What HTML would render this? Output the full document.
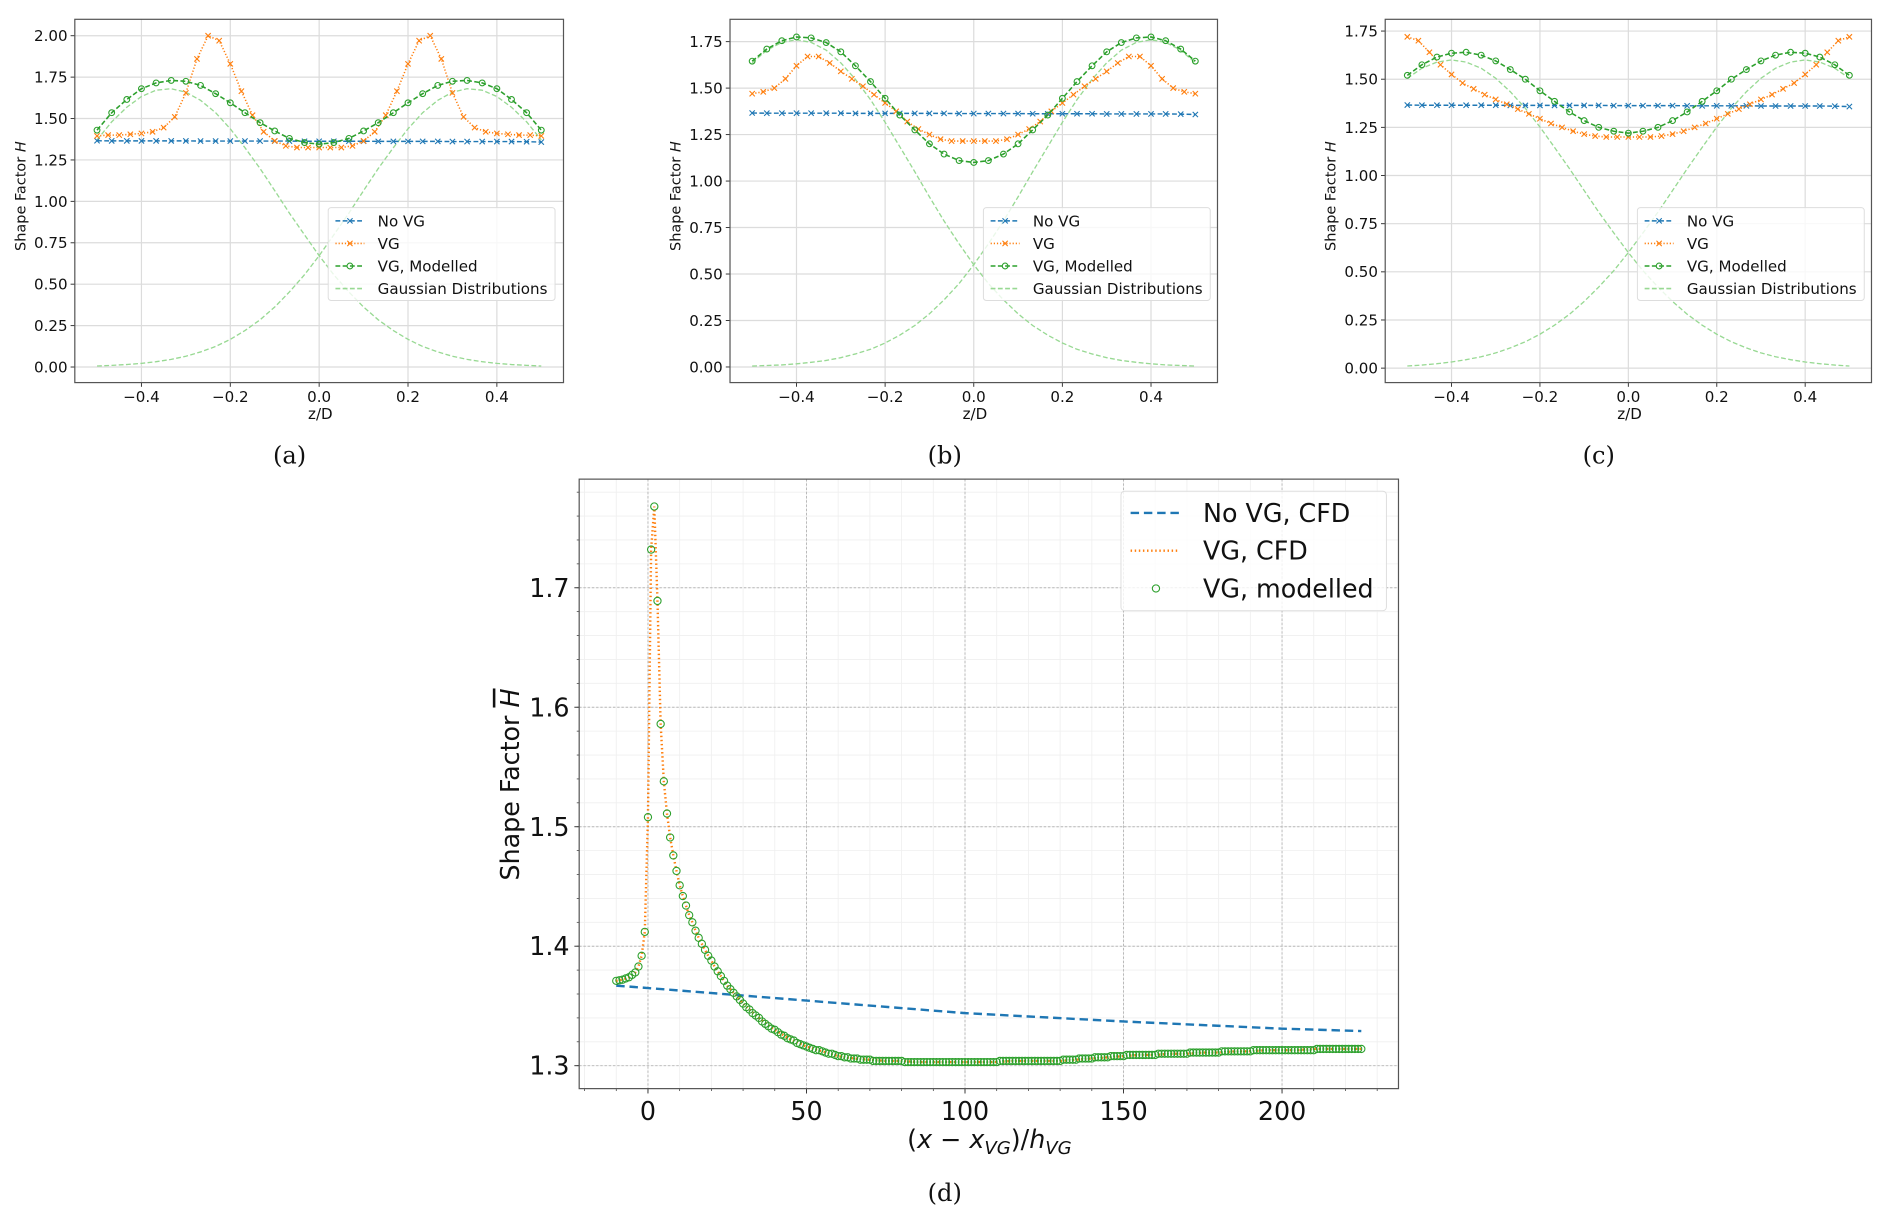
<!DOCTYPE html>
<html><head><meta charset="utf-8"><style>
html,body{margin:0;padding:0;background:#fff;}
svg{display:block;}
text{font-family:"DejaVu Sans","Liberation Sans",sans-serif;}
.cap{font-family:"DejaVu Serif","Liberation Serif",serif;}
</style></head>
<body>
<svg id="fig" xmlns="http://www.w3.org/2000/svg" width="1892" height="1225" viewBox="0 0 1568 1015" preserveAspectRatio="none"></svg>
<script>
// ---------- shared x categories ----------
const z31 = [-0.5,-0.467,-0.433,-0.4,-0.367,-0.333,-0.3,-0.267,-0.233,-0.2,-0.167,-0.133,-0.1,-0.067,-0.033,0,0.033,0.067,0.1,0.133,0.167,0.2,0.233,0.267,0.3,0.333,0.367,0.4,0.433,0.467,0.5];
const z41 = [-0.5,-0.475,-0.45,-0.425,-0.4,-0.375,-0.35,-0.325,-0.3,-0.275,-0.25,-0.225,-0.2,-0.175,-0.15,-0.125,-0.1,-0.075,-0.05,-0.025,0,0.025,0.05,0.075,0.1,0.125,0.15,0.175,0.2,0.225,0.25,0.275,0.3,0.325,0.35,0.375,0.4,0.425,0.45,0.475,0.5];
const zTicks = [-0.4,-0.2,0,0.2,0.4];
const zTickLabels = ["\u22120.4","\u22120.2","0.0","0.2","0.4"];

// ---------- panel (a) ----------
const aNoVG = [1.366,1.365,1.365,1.365,1.365,1.365,1.365,1.364,1.364,1.364,1.364,1.364,1.364,1.364,1.363,1.363,1.363,1.363,1.363,1.362,1.362,1.362,1.362,1.362,1.361,1.361,1.361,1.361,1.361,1.360,1.358];
const aVG = [1.395,1.40,1.40,1.405,1.41,1.42,1.445,1.51,1.655,1.86,2.00,1.97,1.83,1.665,1.52,1.42,1.365,1.335,1.325,1.325,1.325,1.325,1.325,1.335,1.365,1.42,1.52,1.665,1.83,1.97,2.00,1.86,1.655,1.51,1.445,1.42,1.41,1.405,1.40,1.40,1.395];
const aMod = [1.43,1.535,1.615,1.68,1.715,1.73,1.725,1.70,1.65,1.595,1.535,1.475,1.425,1.38,1.355,1.345,1.355,1.38,1.425,1.475,1.535,1.595,1.65,1.70,1.725,1.73,1.715,1.68,1.615,1.535,1.43];
const aGaussL = [1.371,1.480,1.568,1.633,1.671,1.680,1.659,1.610,1.535,1.438,1.324,1.198,1.065,0.929,0.798,0.672,0.557,0.453,0.362,0.285,0.220,0.167,0.124,0.091,0.065,0.046,0.032,0.022,0.015,0.010,0.006];
const aGaussR = [0.006,0.010,0.015,0.022,0.032,0.046,0.065,0.091,0.124,0.167,0.220,0.285,0.362,0.453,0.557,0.672,0.798,0.929,1.065,1.198,1.324,1.438,1.535,1.610,1.659,1.680,1.671,1.633,1.568,1.480,1.371];
const aYTicks = [0,0.25,0.5,0.75,1.0,1.25,1.5,1.75,2.0];
const aYTickLabels = ["0.00","0.25","0.50","0.75","1.00","1.25","1.50","1.75","2.00"];

// ---------- panel (b) ----------
const bNoVG = [1.366,1.365,1.365,1.365,1.365,1.365,1.365,1.364,1.364,1.364,1.364,1.364,1.364,1.364,1.363,1.363,1.363,1.363,1.363,1.362,1.362,1.362,1.362,1.362,1.361,1.361,1.361,1.361,1.361,1.360,1.358];
const bVG = [1.47,1.48,1.50,1.55,1.62,1.67,1.67,1.635,1.59,1.55,1.51,1.465,1.42,1.375,1.32,1.28,1.25,1.225,1.215,1.215,1.215,1.215,1.215,1.225,1.25,1.28,1.32,1.375,1.42,1.465,1.51,1.55,1.59,1.635,1.67,1.67,1.62,1.55,1.50,1.48,1.47];
const bMod = [1.645,1.71,1.755,1.775,1.77,1.745,1.695,1.62,1.535,1.445,1.355,1.275,1.20,1.145,1.11,1.10,1.11,1.145,1.20,1.275,1.355,1.445,1.535,1.62,1.695,1.745,1.77,1.775,1.755,1.71,1.645];
const bGaussL = [1.636,1.704,1.746,1.760,1.746,1.704,1.636,1.547,1.438,1.316,1.185,1.050,0.915,0.785,0.662,0.550,0.449,0.361,0.286,0.223,0.171,0.129,0.095,0.070,0.050,0.035,0.025,0.017,0.011,0.008,0.005];
const bGaussR = [0.005,0.008,0.011,0.017,0.025,0.035,0.050,0.070,0.095,0.129,0.171,0.223,0.286,0.361,0.449,0.550,0.662,0.785,0.915,1.050,1.185,1.316,1.438,1.547,1.636,1.704,1.746,1.760,1.746,1.704,1.636];
const bcYTicks = [0,0.25,0.5,0.75,1.0,1.25,1.5,1.75];
const bcYTickLabels = ["0.00","0.25","0.50","0.75","1.00","1.25","1.50","1.75"];

// ---------- panel (c) ----------
const cNoVG = [1.366,1.365,1.365,1.365,1.365,1.365,1.365,1.364,1.364,1.364,1.364,1.364,1.364,1.364,1.363,1.363,1.363,1.363,1.363,1.362,1.362,1.362,1.362,1.362,1.361,1.361,1.361,1.361,1.361,1.360,1.358];
const cVG = [1.72,1.70,1.64,1.575,1.525,1.48,1.45,1.42,1.395,1.37,1.345,1.32,1.295,1.27,1.25,1.23,1.215,1.205,1.20,1.20,1.20,1.20,1.20,1.205,1.215,1.23,1.25,1.27,1.295,1.32,1.345,1.37,1.395,1.42,1.45,1.48,1.525,1.575,1.64,1.70,1.72];
const cMod = [1.52,1.575,1.615,1.635,1.64,1.625,1.595,1.55,1.50,1.44,1.385,1.33,1.285,1.25,1.23,1.22,1.23,1.25,1.285,1.33,1.385,1.44,1.50,1.55,1.595,1.625,1.64,1.635,1.615,1.575,1.52];
const cGaussL = [1.505,1.557,1.589,1.600,1.589,1.557,1.505,1.435,1.349,1.252,1.146,1.035,0.922,0.810,0.702,0.600,0.506,0.421,0.346,0.280,0.223,0.176,0.137,0.105,0.079,0.059,0.044,0.032,0.023,0.016,0.011];
const cGaussR = [0.011,0.016,0.023,0.032,0.044,0.059,0.079,0.105,0.137,0.176,0.223,0.280,0.346,0.421,0.506,0.600,0.702,0.810,0.922,1.035,1.146,1.252,1.349,1.435,1.505,1.557,1.589,1.600,1.589,1.557,1.505];

// ---------- panel (d) ----------
const dNoVGX = [-10,0,50,100,150,200,225];
const dNoVGY = [1.367,1.365,1.3545,1.344,1.337,1.331,1.329];
const dVGCfdX = [-10,-9,-8,-7,-6,-5,-4,-3,-2,-1,0,1,2,3,4,5,6,7,8,9,10,11,12,13,14,15,16,17,18,19,20,21,22,23,24,25,26,27,28,29,30,35,40,45,50,55,60,65,70,75,80,85,90,95,100,105,110,115,120,125,130,135,140,145,150,155,160,165,170,175,180,185,190,195,200,205,210,215,220,225];
const dVGCfdY = [1.371,1.3715,1.372,1.373,1.374,1.376,1.378,1.383,1.392,1.412,1.508,1.732,1.768,1.689,1.586,1.538,1.511,1.491,1.476,1.463,1.451,1.442,1.434,1.426,1.420,1.413,1.407,1.402,1.397,1.392,1.388,1.383,1.379,1.375,1.371,1.367,1.364,1.361,1.358,1.355,1.352,1.340,1.330,1.322,1.316,1.312,1.308,1.306,1.305,1.304,1.304,1.303,1.303,1.303,1.303,1.303,1.303,1.304,1.304,1.304,1.304,1.305,1.306,1.307,1.308,1.309,1.309,1.310,1.310,1.311,1.311,1.312,1.312,1.313,1.313,1.313,1.314,1.314,1.314,1.314];
const dModStartX = -10;
const dModY = [1.371,1.3715,1.372,1.373,1.374,1.376,1.378,1.383,1.392,1.412,
1.508,1.732,1.768,1.689,1.586,1.538,1.511,1.491,1.476,1.463,1.451,1.442,1.434,1.426,1.420,1.413,1.407,1.402,1.397,1.392,1.388,1.383,1.379,1.375,1.371,1.367,1.364,1.361,1.358,1.355,1.352,
1.349,1.347,1.344,1.342,1.340,1.337,1.335,1.333,1.331,1.330,1.328,1.326,1.325,1.323,1.322,1.321,1.319,1.318,1.317,1.316,
1.315,1.314,1.313,1.313,1.312,1.311,1.310,1.310,1.309,1.308,1.308,1.307,1.307,1.306,1.306,1.306,1.305,1.305,1.305,1.305,
1.304,1.304,1.304,1.304,1.304,1.304,1.304,1.304,1.304,1.304,
1.303,1.303,1.303,1.303,1.303,1.303,1.303,1.303,1.303,1.303,1.303,1.303,1.303,1.303,1.303,1.303,1.303,1.303,1.303,1.303,1.303,1.303,1.303,1.303,1.303,1.303,1.303,1.303,1.303,1.303,
1.304,1.304,1.304,1.304,1.304,1.304,1.304,1.304,1.304,1.304,1.304,1.304,1.304,1.304,1.304,1.304,1.304,1.304,1.304,1.304,
1.305,1.305,1.305,1.305,1.305,1.306,1.306,1.306,1.306,1.306,1.307,1.307,1.307,1.307,1.307,1.308,1.308,1.308,1.308,1.308,
1.309,1.309,1.309,1.309,1.309,1.309,1.309,1.309,1.309,1.309,1.310,1.310,1.310,1.310,1.310,1.310,1.310,1.310,1.310,1.310,1.311,1.311,1.311,1.311,1.311,
1.311,1.311,1.311,1.311,1.311,1.312,1.312,1.312,1.312,1.312,1.312,1.312,1.312,1.312,1.312,1.313,1.313,1.313,1.313,1.313,1.313,1.313,1.313,1.313,1.313,
1.313,1.313,1.313,1.313,1.313,1.313,1.313,1.313,1.313,1.313,1.314,1.314,1.314,1.314,1.314,1.314,1.314,1.314,1.314,1.314,1.314,1.314,1.314,1.314,1.314];
const dXTicks = [0,50,100,150,200];
const dXTickLabels = ["0","50","100","150","200"];
const dYTicks = [1.3,1.4,1.5,1.6,1.7];
const dYTickLabels = ["1.3","1.4","1.5","1.6","1.7"];

// ---------- drawing ----------
const NS = "http://www.w3.org/2000/svg";
const svg = document.getElementById('fig');
const BLUE="#1f77b4", ORANGE="#ff7f0e", GREEN="#2ca02c", LGREEN="#98d993";
function mk(tag, attrs, parent){
  const e=document.createElementNS(NS,tag);
  for(const k in attrs) e.setAttribute(k,attrs[k]);
  (parent||svg).appendChild(e);
  return e;
}
function scale(d0,d1,p0,p1){return v=>p0+(v-d0)*(p1-p0)/(d1-d0);}

function xMarker(g,x,y,col){
  const p=mk('path',{d:`M${x-2.2},${y-2.2}L${x+2.2},${y+2.2}M${x-2.2},${y+2.2}L${x+2.2},${y-2.2}`,stroke:col,'stroke-width':0.9,fill:'none'},g);
  
  
}
function oMarker(g,x,y,col,r,w){
  const c=mk('circle',{cx:x,cy:y,r:r,stroke:col,'stroke-width':w,fill:'none'},g);
  
  
}

function smallPanel(id, box, ylim, yTicks, yTickLabels, noVG, vg, mod, gL, gR, legBox, cap){
  const g=mk('g',{});
  
  
  const X=scale(-0.55,0.55,box.l,box.r), Y=scale(ylim[0],ylim[1],box.b,box.t);
  // grid
  zTicks.forEach((t,i)=>{
    const l=mk('line',{x1:X(t),x2:X(t),y1:box.t,y2:box.b,stroke:'#dcdcdc','stroke-width':1},g);
    
    
    const tk=mk('line',{x1:X(t),x2:X(t),y1:box.b,y2:box.b+3.5,stroke:'#333','stroke-width':0.8},g);
    
    
    const tx=mk('text',{x:X(t),y:box.b+16,'font-size':12.5,'text-anchor':'middle',fill:'#111'},g);
    tx.textContent=zTickLabels[i];
    
    
  });
  yTicks.forEach((t,i)=>{
    const l=mk('line',{x1:box.l,x2:box.r,y1:Y(t),y2:Y(t),stroke:'#dcdcdc','stroke-width':1},g);
    
    
    const tk=mk('line',{x1:box.l-3.5,x2:box.l,y1:Y(t),y2:Y(t),stroke:'#333','stroke-width':0.8},g);
    
    
    const tx=mk('text',{x:box.l-6,y:Y(t)+4.5,'font-size':12.5,'text-anchor':'end',fill:'#111'},g);
    tx.textContent=yTickLabels[i];
    
    
  });
  // series
  const line=(xs,ys,col,dash,w,name)=>{
    const p=mk('polyline',{points:xs.map((x,i)=>X(x)+','+Y(ys[i])).join(' '),fill:'none',stroke:col,'stroke-width':w,'stroke-dasharray':dash},g);
    
    
  };
  line(z31,gL,LGREEN,'4,2',1.1,'gaussian-left-line');
  line(z31,gR,LGREEN,'4,2',1.1,'gaussian-right-line');
  line(z31,noVG,BLUE,'4,2',1.2,'no-vg-line');
  z31.forEach((z,i)=>xMarker(g,X(z),Y(noVG[i]),BLUE));
  line(z41,vg,ORANGE,'1,1.6',1.3,'vg-line');
  z41.forEach((z,i)=>xMarker(g,X(z),Y(vg[i]),ORANGE));
  line(z31,mod,GREEN,'4,2',1.3,'vg-modelled-line');
  z31.forEach((z,i)=>oMarker(g,X(z),Y(mod[i]),GREEN,2.4,0.9));
  // frame
  const fr=mk('rect',{x:box.l,y:box.t,width:box.r-box.l,height:box.b-box.t,fill:'none',stroke:'#555','stroke-width':1},g);
  
  
  // labels
  const xl=mk('text',{x:(box.l+box.r)/2+1,y:box.b+30,'font-size':12.5,'text-anchor':'middle',fill:'#111'},g);
  xl.textContent='z/D';
  
  
  const yx=box.l-41, yc=(box.t+box.b)/2-4;
  const yl=mk('text',{x:yx,y:yc,'font-size':12,'text-anchor':'middle',fill:'#111',transform:`rotate(-90 ${yx} ${yc})`},g);
  yl.innerHTML='Shape Factor <tspan font-style="italic">H</tspan>';
  
  
  // legend
  const lg=mk('g',{},g);
  
  
  const lr=mk('rect',{x:legBox.x,y:legBox.y,width:188,height:77,rx:2.5,fill:'#fff','fill-opacity':0.8,stroke:'#ddd','stroke-width':0.8},lg);
  
  
  const ents=[['No VG',BLUE,'4,2','x'],['VG',ORANGE,'1,1.6','x'],['VG, Modelled',GREEN,'4,2','o'],['Gaussian Distributions',LGREEN,'4,2','']];
  ents.forEach((e,i)=>{
    const yy=legBox.y+11+i*18.7, hx=legBox.x+6;
    const eg=mk('g',{},lg);
    
    
    const l=mk('line',{x1:hx,x2:hx+24,y1:yy,y2:yy,stroke:e[1],'stroke-width':1.3,'stroke-dasharray':e[2]},eg);
    
    
    if(e[3]==='x') xMarker(eg,hx+12,yy,e[1]);
    if(e[3]==='o') oMarker(eg,hx+12,yy,e[1],2.4,0.9);
    const t=mk('text',{x:legBox.x+41,y:yy+4.5,'font-size':12.5,fill:'#111'},eg);
    t.textContent=e[0];
    
    
  });
  const c=mk('text',{x:cap,y:384,'font-size':20,'text-anchor':'middle',fill:'#111',class:'cap'},g);
  c.textContent='('+id+')';
  
  
}

smallPanel('a',{l:62,r:467,t:16,b:317},[-0.094,2.099],aYTicks,aYTickLabels,aNoVG,aVG,aMod,aGaussL,aGaussR,{x:272,y:172},240);
smallPanel('b',{l:605,r:1009,t:16,b:317},[-0.084,1.870],bcYTicks,bcYTickLabels,bNoVG,bVG,bMod,bGaussL,bGaussR,{x:815,y:172},783);
smallPanel('c',{l:1148,r:1551,t:16,b:317},[-0.075,1.811],bcYTicks,bcYTickLabels,cNoVG,cVG,cMod,cGaussL,cGaussR,{x:1357,y:172},1325);

// ---------- panel d ----------
(function(){
  const g=mk('g',{});
  
  
  const box={l:480,r:1159,t:397,b:902};
  const X=scale(0,200,537,1062.5), Y=scale(1.3,1.7,883,487);
  // minor grid
  for(let v=-20; v<=230; v+=10){
    if(X(v)<box.l||X(v)>box.r) continue;
    const l=mk('line',{x1:X(v),x2:X(v),y1:box.t,y2:box.b,stroke:'#efefef','stroke-width':0.7},g);
    
    
    const t=mk('line',{x1:X(v),x2:X(v),y1:box.b,y2:box.b+2,stroke:'#333','stroke-width':0.6},g);
    
    
  }
  for(let k=0; k<=25; k++){
    const v=1.28+k*0.02;
    if(Y(v)<box.t||Y(v)>box.b) continue;
    const l=mk('line',{x1:box.l,x2:box.r,y1:Y(v),y2:Y(v),stroke:'#efefef','stroke-width':0.7},g);
    
    
    const t=mk('line',{x1:box.l-2,x2:box.l,y1:Y(v),y2:Y(v),stroke:'#333','stroke-width':0.6},g);
    
    
  }
  dXTicks.forEach((t,i)=>{
    const l=mk('line',{x1:X(t),x2:X(t),y1:box.t,y2:box.b,stroke:'#b8b8b8','stroke-width':0.8,'stroke-dasharray':'2,1.5'},g);
    
    
    const tk=mk('line',{x1:X(t),x2:X(t),y1:box.b,y2:box.b+4,stroke:'#333','stroke-width':0.8},g);
    
    
    const tx=mk('text',{x:X(t),y:box.b+26,'font-size':21,'text-anchor':'middle',fill:'#111'},g);
    tx.textContent=dXTickLabels[i];
    
    
  });
  dYTicks.forEach((t,i)=>{
    const l=mk('line',{x1:box.l,x2:box.r,y1:Y(t),y2:Y(t),stroke:'#b8b8b8','stroke-width':0.8,'stroke-dasharray':'2,1.5'},g);
    
    
    const tk=mk('line',{x1:box.l-4,x2:box.l,y1:Y(t),y2:Y(t),stroke:'#333','stroke-width':0.8},g);
    
    
    const tx=mk('text',{x:box.l-8,y:Y(t)+7.5,'font-size':21,'text-anchor':'end',fill:'#111'},g);
    tx.textContent=dYTickLabels[i];
    
    
  });
  const nv=mk('polyline',{points:dNoVGX.map((x,i)=>X(x)+','+Y(dNoVGY[i])).join(' '),fill:'none',stroke:BLUE,'stroke-width':2,'stroke-dasharray':'7,4'},g);
  
  
  const vc=mk('polyline',{points:dVGCfdX.map((x,i)=>X(x)+','+Y(dVGCfdY[i])).join(' '),fill:'none',stroke:ORANGE,'stroke-width':2,'stroke-dasharray':'1.2,2.2'},g);
  
  
  const mg=mk('g',{},g);
  
  
  dModY.forEach((v,i)=>oMarker(mg,X(dModStartX+i),Y(v),GREEN,3,0.9));
  const fr=mk('rect',{x:box.l,y:box.t,width:box.r-box.l,height:box.b-box.t,fill:'none',stroke:'#555','stroke-width':1},g);
  
  
  // legend
  const lg=mk('g',{},g);
  
  
  const lr=mk('rect',{x:929,y:407,width:220,height:99,rx:3,fill:'#fff','fill-opacity':0.8,stroke:'#ddd','stroke-width':0.8},lg);
  
  
  const ents=[['No VG, CFD',BLUE,'7,4','l'],['VG, CFD',ORANGE,'1.2,2.2','l'],['VG, modelled',GREEN,'','o']];
  ents.forEach((e,i)=>{
    const yy=425+i*31.3;
    const eg=mk('g',{},lg);
    
    
    if(e[3]==='l'){
      const l=mk('line',{x1:937,x2:977,y1:yy,y2:yy,stroke:e[1],'stroke-width':2,'stroke-dasharray':e[2]},eg);
      
      
    } else oMarker(eg,958,yy,e[1],3,0.9);
    const t=mk('text',{x:997,y:yy+7.5,'font-size':21,fill:'#111'},eg);
    t.textContent=e[0];
    
    
  });
  const xl=mk('text',{x:820,y:951,'font-size':21,'text-anchor':'middle',fill:'#111'},g);
  xl.innerHTML='(<tspan font-style="italic">x</tspan> \u2212 <tspan font-style="italic">x</tspan><tspan font-style="italic" font-size="15" dy="5">VG</tspan><tspan dy="-5">)/</tspan><tspan font-style="italic">h</tspan><tspan font-style="italic" font-size="15" dy="5">VG</tspan>';
  
  
  const yx=430, yc=650;
  const yl=mk('text',{x:yx,y:yc,'font-size':21,'text-anchor':'middle',fill:'#111',transform:`rotate(-90 ${yx} ${yc})`},g);
  yl.innerHTML='Shape Factor <tspan font-style="italic" text-decoration="overline">H</tspan>';
  
  
  const c=mk('text',{x:783,y:995,'font-size':20,'text-anchor':'middle',fill:'#111',class:'cap'},g);
  c.textContent='(d)';
  
  
})();
</script>
</body></html>
